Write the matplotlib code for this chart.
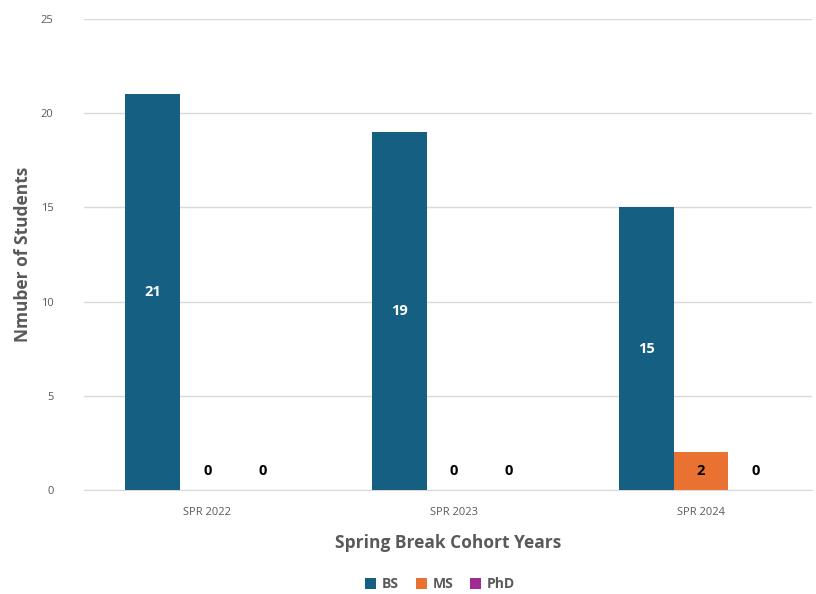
import matplotlib.pyplot as plt
import numpy as np

categories = ["SPR 2022", "SPR 2023", "SPR 2024"]
bs = [21, 19, 15]
ms = [0, 0, 2]
phd = [0, 0, 0]

series = [("BS", bs, "#156082", "white"),
          ("MS", ms, "#E97132", "black"),
          ("PhD", phd, "#A02B93", "black")]

plt.rcParams["font.family"] = ["Open Sans", "DejaVu Sans"]

fig = plt.figure(figsize=(8.16, 5.94), dpi=100)
ax = fig.add_axes([0.103, 0.175, 0.892, 0.793])

x = np.arange(len(categories))
w = 0.222
for i, (name, vals, color, tcolor) in enumerate(series):
    pos = x + (i - 1) * w
    ax.bar(pos, vals, w, color=color, label=name, zorder=3)
    for p, v in zip(pos, vals):
        ypos = v / 2 if v > 0 else 1
        ax.text(p, ypos, str(v), ha="center", va="center", fontsize=10.5,
                fontweight="bold", color=tcolor, zorder=4)

ax.set_xlim(-0.5, 2.45)
ax.set_ylim(0, 25)
ax.set_yticks([0, 5, 10, 15, 20, 25])
ax.set_xticks(x)
ax.set_xticklabels(categories)
ax.yaxis.grid(True, color="#d9d9d9", linewidth=1, zorder=0)
for s in ["top", "right", "left"]:
    ax.spines[s].set_visible(False)
ax.spines["bottom"].set_color("#d9d9d9")
ax.tick_params(axis="both", length=0, labelsize=8, colors="#595959")
ax.tick_params(axis="x", pad=12)
ax.tick_params(axis="y", pad=22)

ax.set_xlabel("Spring Break Cohort Years", fontsize=12.5, fontweight="bold",
              color="#595959", labelpad=12)
ax.set_ylabel("Nmuber of Students", fontsize=12.5, fontweight="bold",
              color="#595959", labelpad=6)

ax.legend(loc="center", bbox_to_anchor=(0.489, -0.2), ncol=3, frameon=False,
          handlelength=0.8, handleheight=0.8, columnspacing=1.2,
          handletextpad=0.4, prop={"weight": "bold", "size": 10})
for t in ax.get_legend().get_texts():
    t.set_color("#595959")

fig.savefig("out.png", dpi=100)
